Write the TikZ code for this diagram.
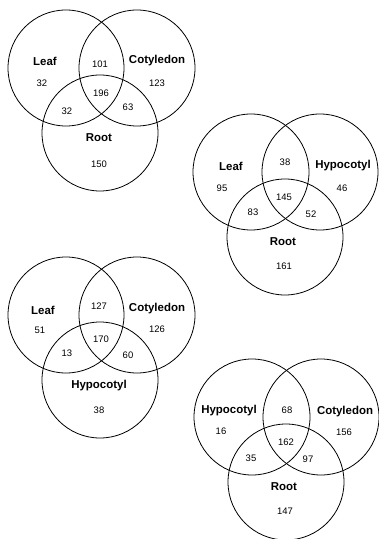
\documentclass[tikz,border=0pt]{standalone}
\usepackage{fontspec}
\setmainfont{Liberation Sans}

\begin{document}
\begin{tikzpicture}[x=1bp,y=-1bp,
    set/.style={draw,circle,minimum size=116bp,inner sep=0pt,line width=0.8bp},
    lbl/.style={font=\bfseries\fontsize{11.5}{13}\selectfont},
    num/.style={font=\fontsize{9.5}{11}\selectfont}
]
\useasboundingbox (0,0) rectangle (378,539);

% leaf / cotyledon / root
\node[set] (leafA) at (66,68) {};
\node[set] (cotA) at (137,68) {};
\node[set] (rootA) at (100,133) {};
\path (45,61) node[lbl] (leafAl) {Leaf};
\path (157,61) node[lbl] (cotAl) {Cotyledon};
\path (99,138) node[lbl] (rootAl) {Root};
\path (42,83) node[num] (nA1) {32};
\path (100,64) node[num] (nA2) {101};
\path (157,83) node[num] (nA3) {123};
\path (101,93) node[num] (nA4) {196};
\path (67,111) node[num] (nA5) {32};
\path (128,107) node[num] (nA6) {63};
\path (99,164) node[num] (nA7) {150};

% leaf / hypocotyl / root
\node[set] (leafB) at (251,172) {};
\node[set] (hypB) at (320,172) {};
\node[set] (rootB) at (285,237) {};
\path (231,166) node[lbl] (leafBl) {Leaf};
\path (343,166) node[lbl] (hypBl) {Hypocotyl};
\path (283,242) node[lbl] (rootBl) {Root};
\path (222,188) node[num] (nB1) {95};
\path (285,162) node[num] (nB2) {38};
\path (342,188) node[num] (nB3) {46};
\path (284,197) node[num] (nB4) {145};
\path (253,212) node[num] (nB5) {83};
\path (311,214) node[num] (nB6) {52};
\path (284,266) node[num] (nB7) {161};

% leaf / cotyledon / hypocotyl
\node[set] (leafC) at (66,315) {};
\node[set] (cotC) at (137,315) {};
\node[set] (hypC) at (100,380) {};
\path (43,310) node[lbl] (leafCl) {Leaf};
\path (157,309) node[lbl] (cotCl) {Cotyledon};
\path (99,386) node[lbl] (hypCl) {Hypocotyl};
\path (40,330) node[num] (nC1) {51};
\path (99,306) node[num] (nC2) {127};
\path (157,329) node[num] (nC3) {126};
\path (101,339) node[num] (nC4) {170};
\path (67,353) node[num] (nC5) {13};
\path (128,355) node[num] (nC6) {60};
\path (99,410) node[num] (nC7) {38};

% hypocotyl / cotyledon / root
\node[set] (hypD) at (252,417) {};
\node[set] (cotD) at (321,417) {};
\node[set] (rootD) at (286,482) {};
\path (229,411) node[lbl] (hypDl) {Hypocotyl};
\path (345,412) node[lbl] (cotDl) {Cotyledon};
\path (284,487) node[lbl] (rootDl) {Root};
\path (221,431) node[num] (nD1) {16};
\path (287,410) node[num] (nD2) {68};
\path (344,432) node[num] (nD3) {156};
\path (286,442) node[num] (nD4) {162};
\path (251,458) node[num] (nD5) {35};
\path (308,459) node[num] (nD6) {97};
\path (285,511) node[num] (nD7) {147};

\end{tikzpicture}
\end{document}
